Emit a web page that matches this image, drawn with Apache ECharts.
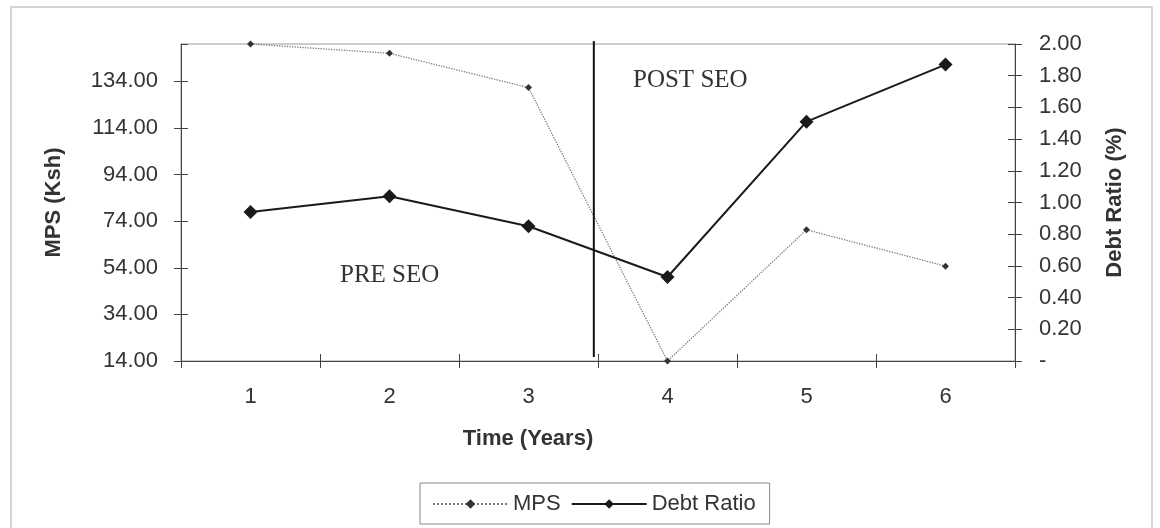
<!DOCTYPE html>
<html>
<head>
<meta charset="utf-8">
<script src="https://cdn.jsdelivr.net/npm/echarts@6/dist/echarts.min.js"></script>
<style>
html,body{margin:0;padding:0;background:#fff;}
#c{width:1160px;height:528px;}
</style>
</head>
<body>
<div id="c"></div>
<script>
const categories = ['1', '2', '3', '4', '5', '6'];
const mps = [150.0, 146.0, 131.3, 14.0, 70.3, 54.7];
const debtRatio = [0.94, 1.04, 0.85, 0.53, 1.51, 1.87];
const seoBreak = 3.47;            // PRE/POST SEO divider position on the year scale
const dividerSpan = [151.3, 15.7]; // vertical extent of divider, in MPS units
const leftTicks = {min: 14, max: 150, interval: 20};
const rightTicks = {min: 0, max: 2, interval: 0.2};

const FONT = '"Liberation Sans", Arial, sans-serif';
const SERIF = '"Liberation Serif", "Times New Roman", serif';
const chart = echarts.init(document.getElementById('c'));

const tickStyle = {color: '#444', width: 1};
const labelStyle = {fontFamily: FONT, fontSize: 22, color: '#333'};
const nameStyle = {fontFamily: FONT, fontSize: 22, fontWeight: 'bold', color: '#333'};

chart.setOption({
  backgroundColor: '#fff',
  animation: false,
  grid: {left: 181, right: 145, top: 44, height: 317, show: true, borderColor: '#9a9a9a', borderWidth: 1},
  legend: {
    bottom: 4, left: 420,
    data: ['MPS', 'Debt Ratio'],
    itemWidth: 75, itemHeight: 12, itemGap: 10,
    borderColor: '#888', borderWidth: 1, padding: [10, 14, 9, 12],
    textStyle: {fontFamily: FONT, fontSize: 22, color: '#333'}
  },
  xAxis: [
    {
      type: 'category', data: categories, boundaryGap: true, position: 'bottom',
      name: 'Time (Years)', nameLocation: 'middle', nameGap: 67,
      nameTextStyle: Object.assign({padding: [0, 140, 0, 0]}, nameStyle),
      axisLine: {lineStyle: {color: '#444'}},
      axisTick: {show: true, length: 7, lineStyle: tickStyle},
      axisLabel: Object.assign({margin: 25}, labelStyle),
      splitLine: {show: false}
    },
    {
      type: 'category', data: categories, boundaryGap: true, position: 'bottom',
      axisLine: {show: false},
      axisTick: {show: true, inside: true, length: 7, lineStyle: tickStyle},
      axisLabel: {show: false}, splitLine: {show: false}
    },
    {
      type: 'value', min: 0.5, max: 6.5, show: false
    }
  ],
  yAxis: [
    {
      type: 'value', position: 'left',
      min: leftTicks.min, max: leftTicks.max, interval: leftTicks.interval,
      name: 'MPS (Ksh)', nameLocation: 'middle', nameGap: 116, nameRotate: 90,
      nameTextStyle: nameStyle,
      axisLine: {show: true, lineStyle: {color: '#444'}},
      axisTick: {show: true, length: 7, lineStyle: tickStyle},
      axisLabel: Object.assign({margin: 23, showMaxLabel: false, formatter: v => v.toFixed(2)}, labelStyle),
      splitLine: {show: false}
    },
    {
      type: 'value', position: 'right',
      min: rightTicks.min, max: rightTicks.max, interval: rightTicks.interval,
      name: 'Debt Ratio (%)', nameLocation: 'middle', nameGap: 89, nameRotate: 90,
      nameTextStyle: nameStyle,
      axisLine: {show: true, lineStyle: {color: '#444'}},
      axisTick: {show: true, length: 7, lineStyle: tickStyle},
      axisLabel: Object.assign({margin: 24, formatter: v => v === 0 ? '-' : v.toFixed(2)}, labelStyle),
      splitLine: {show: false}
    },
    {
      type: 'value', position: 'left',
      min: leftTicks.min, max: leftTicks.max, interval: leftTicks.interval,
      axisLine: {show: false},
      axisTick: {show: true, inside: true, length: 7, lineStyle: tickStyle},
      axisLabel: {show: false}, splitLine: {show: false}
    },
    {
      type: 'value', position: 'right',
      min: rightTicks.min, max: rightTicks.max, interval: rightTicks.interval,
      axisLine: {show: false},
      axisTick: {show: true, inside: true, length: 7, lineStyle: tickStyle},
      axisLabel: {show: false}, splitLine: {show: false}
    }
  ],
  series: [
    {
      name: 'MPS', type: 'line', xAxisIndex: 0, yAxisIndex: 0, data: mps,
      symbol: 'diamond', symbolSize: 7,
      itemStyle: {color: '#333'},
      lineStyle: {color: '#7a7a7a', width: 1.3, type: 'dotted'}
    },
    {
      name: 'Debt Ratio', type: 'line', xAxisIndex: 0, yAxisIndex: 1, data: debtRatio,
      symbol: 'diamond', symbolSize: 14,
      itemStyle: {color: '#1a1a1a'},
      lineStyle: {color: '#1a1a1a', width: 2}
    },
    {
      name: 'divider', type: 'line', xAxisIndex: 2, yAxisIndex: 0,
      data: dividerSpan.map(v => [seoBreak, v]),
      symbol: 'none', silent: true, clip: false,
      lineStyle: {color: '#111', width: 2}
    }
  ],
  graphic: [
    {type: 'rect', shape: {x: 11, y: 7, width: 1141, height: 540}, style: {fill: 'none', stroke: '#c8c8c8', lineWidth: 1.5}, silent: true},
    {type: 'text', left: 340, top: 263, style: {text: 'PRE SEO', font: '25px ' + SERIF, fill: '#333'}},
    {type: 'text', left: 633, top: 68, style: {text: 'POST SEO', font: '25px ' + SERIF, fill: '#333'}}
  ]
});
</script>
</body>
</html>
